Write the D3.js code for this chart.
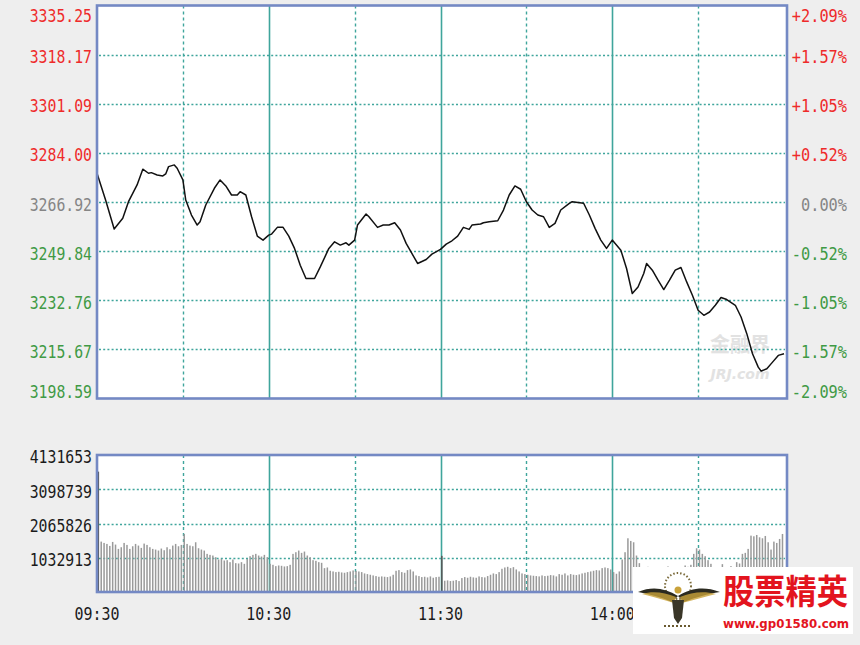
<!DOCTYPE html>
<html><head><meta charset="utf-8">
<script src="https://cdn.jsdelivr.net/npm/d3@7/dist/d3.min.js"></script>
<style>html,body{margin:0;padding:0;background:#eeeeee;}svg{display:block}</style>
</head><body>
<svg id="c" width="860" height="645"></svg>
<script>
// ---------------- data ----------------
const priceTicks = [3335.25, 3318.17, 3301.09, 3284.00, 3266.92, 3249.84, 3232.76, 3215.67, 3198.59];
const pctTicks = ["+2.09%", "+1.57%", "+1.05%", "+0.52%", "0.00%", "-0.52%", "-1.05%", "-1.57%", "-2.09%"];
const volTicks = [4131653, 3098739, 2065826, 1032913];
const volTickLabels = ["4131653", "3098739", "2065826", "1032913"];
const timeLabels = ["09:30", "10:30", "11:30", "14:00"];
const timeLabelMinutes = [0, 60, 120, 180];
const gridMinutes = [30, 60, 90, 120, 150, 180, 210];
const solidMinutes = [60, 120, 180];
const prevClose = 3266.92;

const priceMinutes = [0,3,6,9,11,14,16,18,19,21,23,24,25,27,28,30,31,33,35,36,38,41,43,45,47,49,50,52,54,56,58,60,61,63,65,67,69,71,73,76,78,81,83,85,87,88,90,91,94,95,98,100,102,104,106,108,110,112,115,117,120,122,124,126,128,130,131,134,135,137,140,142,144,146,148,150,152,154,156,158,160,162,165,166,170,172,174,176,178,180,183,185,187,189,191,192,194,196,198,200,202,204,206,208,210,212,214,216,218,220,223,225,227,229,231,232,234,236,238,240];
const prices = [3276.92,3267.62,3257.51,3261.24,3267.02,3272.85,3278.32,3276.92,3277.13,3276.33,3275.98,3276.68,3279.22,3279.82,3278.67,3274.59,3267.62,3262.39,3258.90,3260.05,3265.87,3271.69,3274.59,3272.50,3269.36,3269.36,3270.51,3269.36,3261.79,3255.07,3253.67,3255.41,3255.76,3258.10,3258.10,3255.07,3250.78,3244.95,3240.32,3240.32,3244.36,3250.78,3253.08,3251.93,3252.73,3251.93,3253.67,3258.90,3262.73,3261.79,3258.10,3258.90,3258.90,3259.70,3257.16,3252.52,3249.03,3245.55,3246.94,3248.79,3250.43,3252.28,3253.43,3255.07,3258.10,3257.40,3258.90,3259.25,3259.70,3260.05,3260.40,3264.13,3269.36,3272.50,3271.35,3267.02,3264.13,3262.39,3261.79,3258.10,3259.49,3264.13,3266.47,3267.02,3266.47,3262.39,3257.75,3253.67,3250.78,3253.67,3250.18,3243.80,3235.09,3237.39,3242.06,3245.55,3243.21,3239.73,3236.48,3239.73,3243.21,3244.15,3239.13,3234.50,3229.27,3227.52,3228.67,3231.01,3233.69,3233.00,3231.01,3226.93,3221.14,3214.17,3209.50,3208.10,3208.94,3211.24,3213.58,3214.17];

const volumes = [3630000,
1520000,1480000,1450000,1390000,1510000,1430000,1300000,1350000,1480000,1420000,
1300000,1380000,1450000,1400000,1330000,1460000,1420000,1350000,1300000,1280000,
1250000,1310000,1260000,1350000,1290000,1400000,1450000,1380000,1420000,
1750000,
1450000,1400000,1380000,1500000,1320000,1280000,1250000,1150000,1120000,1100000,
1050000,980000,1000000,950000,960000,900000,980000,870000,860000,900000,
850000,1000000,1080000,1120000,1150000,1100000,1070000,1120000,1050000,
850000,820000,780000,800000,790000,770000,780000,820000,1150000,
1200000,1250000,1180000,1220000,1100000,1050000,
960000,940000,900000,880000,720000,740000,
640000,620000,600000,610000,590000,580000,600000,620000,
650000,640000,620000,600000,560000,540000,520000,500000,
480000,460000,470000,460000,450000,470000,520000,640000,660000,
600000,580000,660000,680000,620000,500000,480000,
450000,460000,440000,470000,430000,450000,460000,
1090000,
340000,350000,330000,340000,360000,330000,
420000,450000,430000,460000,440000,430000,470000,450000,440000,480000,520000,560000,540000,
600000,700000,740000,760000,720000,750000,680000,620000,
560000,540000,520000,500000,490000,480000,470000,500000,480000,490000,510000,500000,470000,
540000,520000,560000,500000,540000,520000,510000,530000,560000,580000,600000,620000,640000,660000,650000,720000,740000,720000,680000,
600000,
550000,620000,980000,1200000,
1620000,1540000,1500000,1100000,
870000,650000,620000,760000,600000,580000,620000,640000,650000,700000,770000,680000,640000,620000,650000,700000,
800000,760000,820000,1150000,1320000,1280000,1150000,1080000,960000,850000,720000,
680000,650000,840000,700000,660000,780000,640000,900000,860000,
1150000,1180000,1300000,1700000,1680000,1720000,1650000,1620000,1690000,1500000,1280000,1520000,1480000,1600000,1750000];

// ---------------- layout ----------------
const L = 97, R = 787, xEnd = 784;
const pTop = 5.5, pBot = 398.5;
const vTop = 455, vBot = 592;
const gridColor = "#3fa59c";
const borderColor = "#7489c4";
const red = "#ee2a2a", green = "#3f9a45", gray = "#858585", black = "#1a1a1a";
const mono = "'DejaVu Sans Mono', 'Liberation Mono', monospace";

const svg = d3.select("#c");
const x = d3.scaleLinear().domain([0, 240]).range([L, xEnd]);
const y = d3.scaleLinear().domain([priceTicks[priceTicks.length - 1], priceTicks[0]]).range([pBot, pTop]);
const yv = d3.scaleLinear().domain([0, volTicks[0]]).range([vBot, vTop]);

svg.append("rect").attr("width", 860).attr("height", 645).attr("fill", "#eeeeee");

function panel(top, bot) {
  svg.append("rect").attr("x", L).attr("y", top).attr("width", R - L).attr("height", bot - top).attr("fill", "#ffffff");
}
panel(pTop, pBot);
panel(vTop, vBot);

// watermark in price panel
const wm = svg.append("g").attr("fill", "#e2e2e2").attr("font-family", "'Noto Sans CJK SC', sans-serif").attr("font-weight", "bold");
wm.append("text").attr("x", 740).attr("y", 352).attr("text-anchor", "middle").attr("font-size", 20).text("金融界");
wm.append("text").attr("x", 740).attr("y", 379).attr("text-anchor", "middle").attr("font-size", 14).attr("font-style", "italic").attr("font-family", "'DejaVu Sans', sans-serif").text("JRJ.com");

// grids
function hGrid(scale, vals, x0, x1) {
  svg.append("g").selectAll("line").data(vals).join("line")
    .attr("x1", x0).attr("x2", x1)
    .attr("y1", d => Math.round(scale(d)) + 0.5).attr("y2", d => Math.round(scale(d)) + 0.5)
    .attr("stroke", gridColor).attr("stroke-width", 1.6).attr("stroke-dasharray", "2,2.2");
}
hGrid(y, priceTicks.slice(1, -1), L + 2, R - 2);
hGrid(yv, volTicks.slice(1), L + 2, R - 2);

function vGrid(top, bot) {
  svg.append("g").selectAll("line").data(gridMinutes).join("line")
    .attr("x1", d => Math.round(x(d)) + 0.5).attr("x2", d => Math.round(x(d)) + 0.5)
    .attr("y1", top).attr("y2", bot)
    .attr("stroke", gridColor)
    .attr("stroke-width", d => solidMinutes.includes(d) ? 1.6 : 1.4)
    .attr("stroke-dasharray", d => solidMinutes.includes(d) ? null : "3,3");
}
vGrid(pTop, pBot);
vGrid(vTop, vBot);

// volume bars
svg.append("g").selectAll("rect").data(volumes).join("rect")
  .attr("x", (d, i) => x(i) + 0.6)
  .attr("width", 1.5)
  .attr("y", d => yv(d))
  .attr("height", d => vBot - yv(d))
  .attr("fill", (d, i) => (i === 0 || i === 120) ? "#555555" : "#9a9a9a");

// price line
const pts = priceMinutes.map((m, i) => [m, prices[i]]);
svg.append("path").datum(pts)
  .attr("fill", "none").attr("stroke", "#111111").attr("stroke-width", 1.5)
  .attr("stroke-linejoin", "round")
  .attr("d", d3.line().x(d => x(d[0])).y(d => y(d[1])));

// borders
function border(top, bot) {
  svg.append("rect").attr("x", L).attr("y", top).attr("width", R - L).attr("height", bot - top)
    .attr("fill", "none").attr("stroke", borderColor).attr("stroke-width", 2.6);
}
border(pTop, pBot);
border(vTop, vBot);

// labels
function label(xp, yc, txt, anchor, color, perChar) {
  svg.append("text")
    .attr("x", xp).attr("y", yc + 6.5)
    .attr("text-anchor", anchor)
    .attr("font-family", mono).attr("font-size", 17.5)
    .attr("textLength", txt.length * perChar).attr("lengthAdjust", "spacingAndGlyphs")
    .attr("fill", color).text(txt);
}
priceTicks.forEach((p, i) => {
  let yc = y(p) + 2;
  if (i === 0) yc = 15;
  if (i === priceTicks.length - 1) yc = 391;
  const c = p > prevClose + 0.001 ? red : (Math.abs(p - prevClose) < 0.001 ? gray : green);
  label(92, yc, d3.format(".2f")(p), "end", c, 8.9);
  label(847, yc, pctTicks[i], "end", c, 9.2);
});
volTicks.forEach((v, i) => {
  label(92, yv(v) + (i === 0 ? 1 : 2), volTickLabels[i], "end", black, 8.9);
});
timeLabels.forEach((t, i) => {
  label(x(timeLabelMinutes[i]), 613, t, "middle", black, 9);
});

// logo watermark (bottom right)
const lg = svg.append("g");
lg.append("rect").attr("x", 633).attr("y", 567).attr("width", 220).attr("height", 67).attr("fill", "#ffffff");
// emblem
const em = lg.append("g");
em.append("circle").attr("cx", 678).attr("cy", 586).attr("r", 13).attr("fill", "none")
  .attr("stroke", "#7a6a3a").attr("stroke-width", 2).attr("stroke-dasharray", "1.5,2");
em.append("path").attr("d", "M678,596 C665,588 652,586 638,592 C650,594 660,597 672,602 Z").attr("fill", "#2b2a20");
em.append("path").attr("d", "M678,596 C691,588 704,586 720,592 C707,594 697,597 684,602 Z").attr("fill", "#2b2a20");
em.append("path").attr("d", "M676,597 C664,592 652,591 642,594 C654,597 664,600 674,603 Z").attr("fill", "#c9a23a").attr("opacity", 0.8);
em.append("path").attr("d", "M680,597 C692,592 704,591 716,594 C704,597 694,600 682,603 Z").attr("fill", "#c9a23a").attr("opacity", 0.8);
em.append("path").attr("d", "M672,600 L684,600 L682,618 L678,624 L674,618 Z").attr("fill", "#3a3628");
em.append("circle").attr("cx", 678).attr("cy", 590).attr("r", 3.5).attr("fill", "#c9a23a");
em.append("path").attr("d", "M664,626 L692,626").attr("stroke", "#6a5a30").attr("stroke-width", 2).attr("stroke-dasharray", "2,2");
lg.append("text").attr("x", 723).attr("y", 604).attr("font-family", "'Noto Sans CJK SC', sans-serif")
  .attr("font-weight", "bold").attr("font-size", 34).attr("fill", "#e3141e")
  .attr("textLength", 125).attr("lengthAdjust", "spacingAndGlyphs").text("股票精英");
lg.append("text").attr("x", 723).attr("y", 628).attr("font-family", "'DejaVu Sans', sans-serif")
  .attr("font-weight", "bold").attr("font-size", 12.5).attr("fill", "#e3141e")
  .attr("textLength", 126).attr("lengthAdjust", "spacingAndGlyphs").text("www.gp01580.com");
</script>
</body></html>
